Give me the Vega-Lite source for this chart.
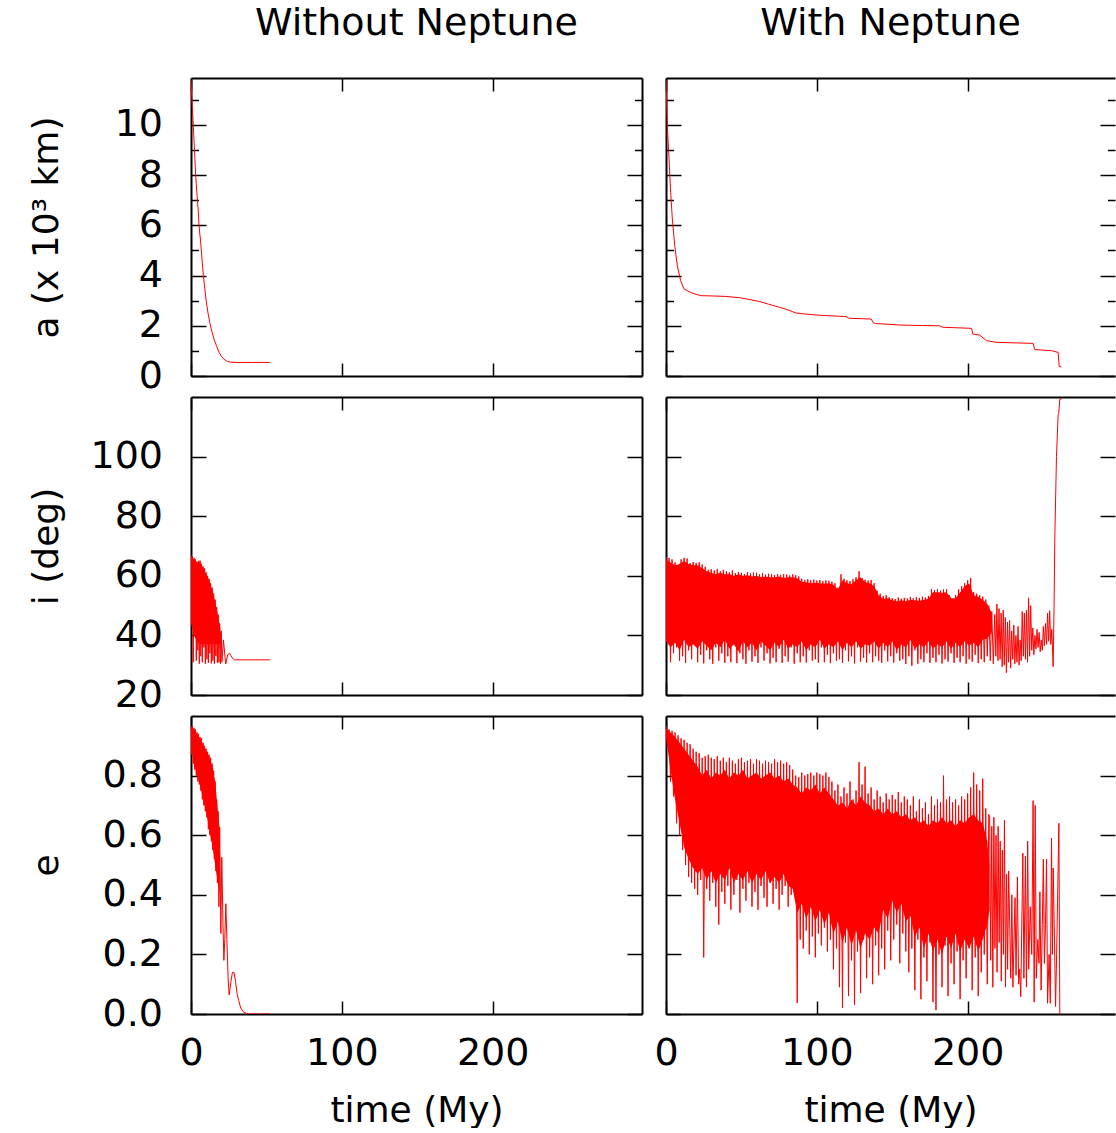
{
"$schema":"https://vega.github.io/schema/vega-lite/v6.json",
"background":"#ffffff",
"padding":{"left":28,"top":5,"right":0,"bottom":0},
"autosize":{"type":"pad"},
"config":{"view":{"stroke":null},"axis":{"labelFont":"DejaVu Sans","labelFontSize":38,"labelColor":"#000","titleFont":"DejaVu Sans","titleFontSize":36,"titleFontWeight":"normal","titleColor":"#000","tickColor":"#000","tickWidth":1.5,"domainColor":"#000","domainWidth":2,"grid":false,"labelFlush":false,"labelOverlap":false,"minExtent":0},"title":{"font":"DejaVu Sans","fontSize":38,"fontWeight":"normal","color":"#000"}},
"datasets":{
"a_wo":[{"t":0,"v":11.8},{"t":0.8,"v":10.8},{"t":1.5,"v":10.0},{"t":2.3,"v":9.0},{"t":3.1,"v":8.0},{"t":4.0,"v":7.2},{"t":4.9,"v":6.5},{"t":5.3,"v":6.0},{"t":6.4,"v":5.33},{"t":7.3,"v":4.65},{"t":8.2,"v":4.0},{"t":9.2,"v":3.45},{"t":10.2,"v":2.93},{"t":11.3,"v":2.5},{"t":12.4,"v":2.14},{"t":13.8,"v":1.78},{"t":15.3,"v":1.47},{"t":17,"v":1.18},{"t":18.6,"v":0.94},{"t":20,"v":0.8},{"t":21.3,"v":0.7},{"t":22.7,"v":0.63},{"t":24.1,"v":0.58},{"t":26.5,"v":0.55},{"t":29.7,"v":0.54},{"t":40,"v":0.54},{"t":52.3,"v":0.54}],
"a_w":[{"t":0,"v":11.8},{"t":0.9,"v":9.97},{"t":2.0,"v":8.65},{"t":3.1,"v":7.32},{"t":4.2,"v":6.25},{"t":5.8,"v":5.19},{"t":7.5,"v":4.39},{"t":9.7,"v":3.8},{"t":11.9,"v":3.47},{"t":15.3,"v":3.36},{"t":19,"v":3.27},{"t":23.1,"v":3.2},{"t":30,"v":3.19},{"t":39.7,"v":3.17},{"t":48.5,"v":3.12},{"t":55,"v":3.05},{"t":61.8,"v":2.97},{"t":68,"v":2.86},{"t":75.1,"v":2.74},{"t":80,"v":2.65},{"t":86.2,"v":2.51},{"t":92,"v":2.47},{"t":99.5,"v":2.43},{"t":108,"v":2.4},{"t":115,"v":2.38},{"t":120,"v":2.36},{"t":121,"v":2.3},{"t":136,"v":2.27},{"t":137.5,"v":2.12},{"t":139,"v":2.09},{"t":155,"v":2.03},{"t":170,"v":2.01},{"t":181.4,"v":2.0},{"t":183.6,"v":1.94},{"t":202.5,"v":1.9},{"t":203.5,"v":1.67},{"t":208,"v":1.63},{"t":212.4,"v":1.41},{"t":219,"v":1.34},{"t":243.4,"v":1.3},{"t":244.5,"v":1.05},{"t":255.6,"v":1.01},{"t":260,"v":0.94},{"t":260.7,"v":0.38},{"t":262.3,"v":0.36}],
"i_wo":[{"t":0,"v":67},{"t":0.5,"v":44},{"t":1,"v":66.5},{"t":1.5,"v":31},{"t":2,"v":66},{"t":2.5,"v":40},{"t":3,"v":65.5},{"t":3.5,"v":31.5},{"t":4,"v":64.8},{"t":4.5,"v":35},{"t":5,"v":65},{"t":5.5,"v":30.5},{"t":6,"v":65.1},{"t":6.5,"v":33},{"t":7,"v":64},{"t":7.5,"v":31},{"t":8,"v":63.2},{"t":8.5,"v":36},{"t":9,"v":62.5},{"t":9.5,"v":30.5},{"t":10,"v":61.2},{"t":10.5,"v":32},{"t":11,"v":60},{"t":11.5,"v":30.8},{"t":12,"v":59},{"t":12.5,"v":34},{"t":13,"v":57.5},{"t":13.5,"v":30.6},{"t":14,"v":56},{"t":14.5,"v":31.5},{"t":15,"v":54},{"t":15.5,"v":30.5},{"t":16,"v":52},{"t":16.5,"v":33},{"t":17,"v":49.5},{"t":17.5,"v":30.8},{"t":18,"v":47},{"t":18.5,"v":31},{"t":19,"v":44},{"t":19.5,"v":30.5},{"t":20,"v":41.5},{"t":20.5,"v":31},{"t":21.5,"v":38.5},{"t":23,"v":30.4},{"t":24.4,"v":33.6},{"t":25.6,"v":34},{"t":26.5,"v":33.2},{"t":27.5,"v":32.3},{"t":29,"v":31.8},{"t":52.3,"v":31.8}],
"i_wo_core":[{"t":0,"lo":44,"hi":66.5},{"t":2,"lo":40,"hi":65.5},{"t":4,"lo":38,"hi":64.5},{"t":6,"lo":37,"hi":64.5},{"t":8,"lo":37,"hi":62.5},{"t":10,"lo":37,"hi":60.5},{"t":12,"lo":37,"hi":58.5},{"t":14,"lo":37,"hi":55.5},{"t":16,"lo":37,"hi":51.5},{"t":18,"lo":37,"hi":46.5},{"t":19.5,"lo":37,"hi":42},{"t":20.3,"lo":38,"hi":39}],
"i_w":[{"t":0,"v":66.5},{"t":1,"v":38},{"t":2,"v":66},{"t":3,"v":31},{"t":4,"v":65.5},{"t":5,"v":34},{"t":6,"v":64.5},{"t":7,"v":36},{"t":8,"v":62.5},{"t":9,"v":31.5},{"t":10,"v":65.5},{"t":11,"v":33},{"t":12,"v":66},{"t":13,"v":30.8},{"t":14,"v":65.8},{"t":15,"v":35},{"t":16,"v":64.2},{"t":17,"v":32},{"t":18,"v":64.6},{"t":19,"v":37},{"t":20,"v":64.3},{"t":21,"v":31},{"t":22,"v":64.5},{"t":23,"v":33.5},{"t":24,"v":63.8},{"t":25,"v":30.6},{"t":26,"v":63},{"t":27,"v":35},{"t":28,"v":62},{"t":29,"v":32},{"t":30,"v":62.2},{"t":31,"v":30.5},{"t":32,"v":61.8},{"t":33,"v":36},{"t":34,"v":62.3},{"t":35,"v":31.5},{"t":36,"v":61.5},{"t":37,"v":34},{"t":38,"v":62},{"t":39,"v":30.8},{"t":40,"v":61.5},{"t":41,"v":33},{"t":42,"v":61.2},{"t":43,"v":31},{"t":44,"v":61.8},{"t":45,"v":37},{"t":46,"v":60.9},{"t":47,"v":30.7},{"t":48,"v":61.3},{"t":49,"v":34},{"t":50,"v":61},{"t":51,"v":32},{"t":52,"v":60.6},{"t":53,"v":30.5},{"t":54,"v":61.2},{"t":55,"v":35},{"t":56,"v":60.8},{"t":57,"v":31.2},{"t":58,"v":61.1},{"t":59,"v":33},{"t":60,"v":61},{"t":61,"v":30.8},{"t":62,"v":60.5},{"t":63,"v":36},{"t":64,"v":60.9},{"t":65,"v":31.5},{"t":66,"v":60.4},{"t":67,"v":34},{"t":68,"v":60.7},{"t":69,"v":30.6},{"t":70,"v":60.5},{"t":71,"v":32.5},{"t":72,"v":60.2},{"t":73,"v":31},{"t":74,"v":60.6},{"t":75,"v":35.5},{"t":76,"v":60.3},{"t":77,"v":30.8},{"t":78,"v":60.5},{"t":79,"v":33},{"t":80,"v":60.4},{"t":81,"v":31.2},{"t":82,"v":60.1},{"t":83,"v":36},{"t":84,"v":60.5},{"t":85,"v":30.5},{"t":86,"v":60.2},{"t":87,"v":34},{"t":88,"v":59.8},{"t":89,"v":31},{"t":90,"v":59},{"t":91,"v":33},{"t":92,"v":58.6},{"t":93,"v":30.9},{"t":94,"v":58.8},{"t":95,"v":35},{"t":96,"v":58.5},{"t":97,"v":31.5},{"t":98,"v":58.7},{"t":99,"v":32},{"t":100,"v":58.4},{"t":101,"v":30.8},{"t":102,"v":58.6},{"t":103,"v":36},{"t":104,"v":58.2},{"t":105,"v":31},{"t":106,"v":58.5},{"t":107,"v":33.5},{"t":108,"v":58.3},{"t":109,"v":30.7},{"t":110,"v":58},{"t":111,"v":34},{"t":112,"v":57.5},{"t":113,"v":31.5},{"t":114,"v":56},{"t":115,"v":32},{"t":116,"v":60.5},{"t":117,"v":30.8},{"t":118,"v":59},{"t":119,"v":35},{"t":120,"v":58.5},{"t":121,"v":31.3},{"t":122,"v":58.2},{"t":123,"v":33},{"t":124,"v":58.8},{"t":125,"v":30.6},{"t":126,"v":59.5},{"t":127,"v":36},{"t":128,"v":61.5},{"t":129,"v":31.2},{"t":130,"v":59.2},{"t":131,"v":32.5},{"t":132,"v":58.7},{"t":133,"v":30.9},{"t":134,"v":58.4},{"t":135,"v":34},{"t":136,"v":58.6},{"t":137,"v":31},{"t":138,"v":57.5},{"t":139,"v":33},{"t":140,"v":55},{"t":141,"v":31.5},{"t":142,"v":54},{"t":143,"v":30.8},{"t":144,"v":53.2},{"t":145,"v":35},{"t":146,"v":53.5},{"t":147,"v":31.3},{"t":148,"v":52.8},{"t":149,"v":33},{"t":150,"v":52.5},{"t":151,"v":30.9},{"t":152,"v":52.2},{"t":153,"v":34},{"t":154,"v":52.7},{"t":155,"v":31.5},{"t":156,"v":52.3},{"t":157,"v":32},{"t":158,"v":52.6},{"t":159,"v":30.4},{"t":160,"v":52.4},{"t":161,"v":33},{"t":162,"v":52.9},{"t":163,"v":29.8},{"t":164,"v":52.5},{"t":165,"v":35},{"t":166,"v":52.8},{"t":167,"v":30.5},{"t":168,"v":52.6},{"t":169,"v":32},{"t":170,"v":53},{"t":171,"v":31},{"t":172,"v":52.7},{"t":173,"v":34},{"t":174,"v":53.2},{"t":175,"v":30.8},{"t":176,"v":55.5},{"t":177,"v":32.5},{"t":178,"v":55.2},{"t":179,"v":31},{"t":180,"v":55.6},{"t":181,"v":33.5},{"t":182,"v":55},{"t":183,"v":30.6},{"t":184,"v":55.4},{"t":185,"v":32},{"t":186,"v":55.5},{"t":187,"v":31.2},{"t":188,"v":53.5},{"t":189,"v":34},{"t":190,"v":52},{"t":191,"v":30.8},{"t":192,"v":53.5},{"t":193,"v":32.5},{"t":194,"v":55.5},{"t":195,"v":31},{"t":196,"v":56.5},{"t":197,"v":33},{"t":198,"v":57.5},{"t":199,"v":30.5},{"t":200,"v":58.5},{"t":201,"v":32},{"t":202,"v":59.3},{"t":203,"v":31.2},{"t":204,"v":54.5},{"t":205,"v":33.5},{"t":206,"v":54},{"t":207,"v":30.7},{"t":208,"v":53.5},{"t":209,"v":32},{"t":210,"v":53},{"t":211,"v":31},{"t":212,"v":52},{"t":213,"v":33},{"t":214,"v":50},{"t":215,"v":31.5},{"t":216,"v":48},{"t":217,"v":30.5},{"t":218,"v":47},{"t":218.7,"v":33},{"t":219.4,"v":50.5},{"t":220.1,"v":31.5},{"t":220.8,"v":49},{"t":221.5,"v":32},{"t":222.2,"v":47.5},{"t":222.9,"v":29.5},{"t":223.6,"v":48.5},{"t":224.3,"v":30},{"t":225,"v":46},{"t":225.7,"v":27.5},{"t":226.4,"v":44.5},{"t":227.1,"v":31},{"t":227.8,"v":45},{"t":228.5,"v":29},{"t":229.2,"v":41.5},{"t":229.9,"v":32},{"t":230.6,"v":43.5},{"t":231.3,"v":30.5},{"t":232,"v":40},{"t":232.7,"v":31},{"t":233.4,"v":43},{"t":234.1,"v":30},{"t":234.8,"v":38.5},{"t":235.5,"v":31.5},{"t":236.2,"v":48},{"t":236.9,"v":33},{"t":237.6,"v":47.5},{"t":238.3,"v":32},{"t":239,"v":48.5},{"t":239.7,"v":31},{"t":240.4,"v":52.6},{"t":241.1,"v":33},{"t":241.8,"v":50},{"t":242.5,"v":35},{"t":243.2,"v":42.5},{"t":243.9,"v":33.5},{"t":244.6,"v":40},{"t":245.3,"v":35.5},{"t":246,"v":42},{"t":246.7,"v":36},{"t":247.4,"v":41},{"t":248.1,"v":34.5},{"t":248.8,"v":38.5},{"t":249.5,"v":35},{"t":250.2,"v":43},{"t":250.9,"v":36.5},{"t":251.6,"v":44},{"t":252.3,"v":37},{"t":253,"v":47.5},{"t":253.7,"v":38},{"t":254.4,"v":48.3},{"t":255.1,"v":37},{"t":255.8,"v":42},{"t":256.7,"v":29.5},{"t":257.3,"v":50},{"t":257.8,"v":73},{"t":258.9,"v":100},{"t":260,"v":114},{"t":260.4,"v":114.5},{"t":261.1,"v":119.2},{"t":262.2,"v":119.3}],
"i_w_core":[{"t":0,"lo":38,"hi":65.5},{"t":3,"lo":36,"hi":64.5},{"t":6,"lo":37.5,"hi":63.5},{"t":9,"lo":35,"hi":64},{"t":12,"lo":38.5,"hi":65},{"t":15,"lo":36,"hi":64},{"t":18,"lo":37,"hi":63.5},{"t":21,"lo":35.5,"hi":63.5},{"t":24,"lo":38,"hi":62.5},{"t":27,"lo":36.5,"hi":61.5},{"t":30,"lo":35,"hi":61},{"t":33,"lo":37.5,"hi":60.5},{"t":36,"lo":36,"hi":61},{"t":39,"lo":38.5,"hi":60.5},{"t":42,"lo":35.5,"hi":60.5},{"t":45,"lo":37,"hi":60},{"t":48,"lo":34.5,"hi":60.5},{"t":51,"lo":38,"hi":60},{"t":54,"lo":36,"hi":60.2},{"t":57,"lo":37.5,"hi":59.8},{"t":60,"lo":35,"hi":60},{"t":63,"lo":38,"hi":59.5},{"t":66,"lo":36.5,"hi":59.8},{"t":69,"lo":35,"hi":59.5},{"t":72,"lo":37.5,"hi":59.5},{"t":75,"lo":36,"hi":59.8},{"t":78,"lo":38.5,"hi":59.3},{"t":81,"lo":35.5,"hi":59.5},{"t":84,"lo":37,"hi":59.5},{"t":87,"lo":36,"hi":59.2},{"t":90,"lo":38,"hi":58},{"t":93,"lo":35,"hi":57.8},{"t":96,"lo":37,"hi":57.5},{"t":99,"lo":36,"hi":57.7},{"t":102,"lo":38.5,"hi":57.5},{"t":105,"lo":35.5,"hi":57.3},{"t":108,"lo":37,"hi":57.5},{"t":111,"lo":36,"hi":57},{"t":114,"lo":38,"hi":55.5},{"t":117,"lo":35,"hi":58.5},{"t":120,"lo":37.5,"hi":57.5},{"t":123,"lo":36,"hi":57.2},{"t":126,"lo":38,"hi":58.5},{"t":129,"lo":35.5,"hi":59.5},{"t":132,"lo":37,"hi":57.8},{"t":135,"lo":36.5,"hi":57.5},{"t":138,"lo":38,"hi":56.5},{"t":141,"lo":35.5,"hi":53.5},{"t":144,"lo":37.5,"hi":52.2},{"t":147,"lo":36,"hi":52.5},{"t":150,"lo":38,"hi":51.8},{"t":153,"lo":35,"hi":51.5},{"t":156,"lo":37,"hi":51.8},{"t":159,"lo":36,"hi":51.5},{"t":162,"lo":38.5,"hi":52},{"t":165,"lo":35.5,"hi":51.8},{"t":168,"lo":37,"hi":51.6},{"t":171,"lo":36,"hi":52},{"t":174,"lo":38,"hi":52.3},{"t":177,"lo":35.5,"hi":54.5},{"t":180,"lo":37,"hi":54.5},{"t":183,"lo":36,"hi":54.3},{"t":186,"lo":38,"hi":54.5},{"t":189,"lo":35.5,"hi":52.5},{"t":192,"lo":37.5,"hi":52.5},{"t":195,"lo":36,"hi":54.5},{"t":198,"lo":38,"hi":56.5},{"t":201,"lo":36.5,"hi":57.5},{"t":204,"lo":37.5,"hi":53.5},{"t":207,"lo":36,"hi":53},{"t":210,"lo":38.5,"hi":52},{"t":213,"lo":39,"hi":50.5},{"t":216,"lo":41,"hi":47.5}],
"e_wo":[{"t":0,"v":0.967},{"t":0.5,"v":0.87},{"t":1,"v":0.965},{"t":1.5,"v":0.84},{"t":2,"v":0.96},{"t":2.5,"v":0.82},{"t":3,"v":0.955},{"t":3.5,"v":0.8},{"t":4,"v":0.945},{"t":4.5,"v":0.78},{"t":5,"v":0.94},{"t":5.5,"v":0.77},{"t":6,"v":0.93},{"t":6.5,"v":0.75},{"t":7,"v":0.925},{"t":7.5,"v":0.72},{"t":8,"v":0.91},{"t":8.5,"v":0.7},{"t":9,"v":0.9},{"t":9.5,"v":0.68},{"t":10,"v":0.89},{"t":10.5,"v":0.66},{"t":11,"v":0.88},{"t":11.5,"v":0.62},{"t":12,"v":0.87},{"t":12.5,"v":0.6},{"t":13,"v":0.86},{"t":13.5,"v":0.58},{"t":14,"v":0.84},{"t":14.5,"v":0.55},{"t":15,"v":0.817},{"t":15.5,"v":0.52},{"t":16,"v":0.78},{"t":16.5,"v":0.48},{"t":17,"v":0.72},{"t":17.5,"v":0.44},{"t":18,"v":0.68},{"t":18.5,"v":0.36},{"t":19,"v":0.627},{"t":19.8,"v":0.27},{"t":20.4,"v":0.526},{"t":21.2,"v":0.3},{"t":21.8,"v":0.18},{"t":22.4,"v":0.25},{"t":23.1,"v":0.37},{"t":23.8,"v":0.25},{"t":24.6,"v":0.12},{"t":25.3,"v":0.064},{"t":26.5,"v":0.11},{"t":27.5,"v":0.14},{"t":28.5,"v":0.14},{"t":29.5,"v":0.11},{"t":30.5,"v":0.07},{"t":31.6,"v":0.045},{"t":33,"v":0.02},{"t":35,"v":0.005},{"t":38.2,"v":0},{"t":52.3,"v":0}],
"e_wo_core":[{"t":0,"lo":0.9,"hi":0.965},{"t":2,"lo":0.84,"hi":0.955},{"t":4,"lo":0.8,"hi":0.94},{"t":6,"lo":0.77,"hi":0.925},{"t":8,"lo":0.72,"hi":0.905},{"t":10,"lo":0.68,"hi":0.885},{"t":12,"lo":0.62,"hi":0.865},{"t":14,"lo":0.57,"hi":0.835},{"t":16,"lo":0.5,"hi":0.78},{"t":17.5,"lo":0.45,"hi":0.7},{"t":19,"lo":0.4,"hi":0.62}],
"e_w":[{"t":0,"v":0.967},{"t":1,"v":0.9},{"t":2,"v":0.955},{"t":3,"v":0.78},{"t":4,"v":0.95},{"t":5,"v":0.73},{"t":6,"v":0.945},{"t":7,"v":0.64},{"t":8,"v":0.935},{"t":9,"v":0.6},{"t":10,"v":0.925},{"t":11,"v":0.55},{"t":12,"v":0.92},{"t":13,"v":0.5},{"t":14,"v":0.91},{"t":15,"v":0.46},{"t":16,"v":0.905},{"t":17,"v":0.44},{"t":18,"v":0.89},{"t":19,"v":0.42},{"t":20,"v":0.88},{"t":21,"v":0.4},{"t":22,"v":0.875},{"t":23,"v":0.45},{"t":24,"v":0.86},{"t":25,"v":0.19},{"t":26,"v":0.865},{"t":27,"v":0.42},{"t":28,"v":0.87},{"t":29,"v":0.38},{"t":30,"v":0.86},{"t":31,"v":0.44},{"t":32,"v":0.855},{"t":33,"v":0.36},{"t":34,"v":0.865},{"t":35,"v":0.3},{"t":36,"v":0.85},{"t":37,"v":0.41},{"t":38,"v":0.86},{"t":39,"v":0.37},{"t":40,"v":0.845},{"t":41,"v":0.43},{"t":42,"v":0.86},{"t":43,"v":0.35},{"t":44,"v":0.85},{"t":45,"v":0.4},{"t":46,"v":0.84},{"t":47,"v":0.45},{"t":48,"v":0.855},{"t":49,"v":0.34},{"t":50,"v":0.86},{"t":51,"v":0.42},{"t":52,"v":0.845},{"t":53,"v":0.38},{"t":54,"v":0.85},{"t":55,"v":0.44},{"t":56,"v":0.855},{"t":57,"v":0.36},{"t":58,"v":0.84},{"t":59,"v":0.41},{"t":60,"v":0.855},{"t":61,"v":0.35},{"t":62,"v":0.85},{"t":63,"v":0.43},{"t":64,"v":0.84},{"t":65,"v":0.39},{"t":66,"v":0.85},{"t":67,"v":0.36},{"t":68,"v":0.845},{"t":69,"v":0.44},{"t":70,"v":0.84},{"t":71,"v":0.37},{"t":72,"v":0.855},{"t":73,"v":0.42},{"t":74,"v":0.845},{"t":75,"v":0.35},{"t":76,"v":0.85},{"t":77,"v":0.4},{"t":78,"v":0.84},{"t":79,"v":0.43},{"t":80,"v":0.845},{"t":81,"v":0.36},{"t":82,"v":0.835},{"t":83,"v":0.4},{"t":84,"v":0.82},{"t":85,"v":0.42},{"t":86,"v":0.8},{"t":87,"v":0.037},{"t":88,"v":0.795},{"t":89,"v":0.25},{"t":90,"v":0.81},{"t":91,"v":0.22},{"t":92,"v":0.8},{"t":93,"v":0.28},{"t":94,"v":0.805},{"t":95,"v":0.2},{"t":96,"v":0.81},{"t":97,"v":0.26},{"t":98,"v":0.8},{"t":99,"v":0.19},{"t":100,"v":0.81},{"t":101,"v":0.27},{"t":102,"v":0.805},{"t":103,"v":0.23},{"t":104,"v":0.8},{"t":105,"v":0.29},{"t":106,"v":0.81},{"t":107,"v":0.21},{"t":108,"v":0.795},{"t":109,"v":0.25},{"t":110,"v":0.78},{"t":111,"v":0.15},{"t":112,"v":0.75},{"t":113,"v":0.22},{"t":114,"v":0.77},{"t":115,"v":0.09},{"t":116,"v":0.73},{"t":117,"v":0.02},{"t":118,"v":0.76},{"t":119,"v":0.24},{"t":120,"v":0.74},{"t":121,"v":0.06},{"t":122,"v":0.78},{"t":123,"v":0.18},{"t":124,"v":0.72},{"t":125,"v":0.03},{"t":126,"v":0.75},{"t":127,"v":0.21},{"t":128,"v":0.845},{"t":129,"v":0.07},{"t":130,"v":0.77},{"t":131,"v":0.25},{"t":132,"v":0.83},{"t":133,"v":0.12},{"t":134,"v":0.74},{"t":135,"v":0.19},{"t":136,"v":0.76},{"t":137,"v":0.1},{"t":138,"v":0.72},{"t":139,"v":0.23},{"t":140,"v":0.75},{"t":141,"v":0.13},{"t":142,"v":0.73},{"t":143,"v":0.22},{"t":144,"v":0.71},{"t":145,"v":0.15},{"t":146,"v":0.74},{"t":147,"v":0.28},{"t":148,"v":0.72},{"t":149,"v":0.18},{"t":150,"v":0.735},{"t":151,"v":0.25},{"t":152,"v":0.72},{"t":153,"v":0.3},{"t":154,"v":0.745},{"t":155,"v":0.17},{"t":156,"v":0.71},{"t":157,"v":0.27},{"t":158,"v":0.73},{"t":159,"v":0.21},{"t":160,"v":0.72},{"t":161,"v":0.14},{"t":162,"v":0.7},{"t":163,"v":0.22},{"t":164,"v":0.73},{"t":165,"v":0.08},{"t":166,"v":0.68},{"t":167,"v":0.25},{"t":168,"v":0.72},{"t":169,"v":0.05},{"t":170,"v":0.69},{"t":171,"v":0.19},{"t":172,"v":0.71},{"t":173,"v":0.11},{"t":174,"v":0.67},{"t":175,"v":0.24},{"t":176,"v":0.73},{"t":177,"v":0.04},{"t":178,"v":0.7},{"t":179,"v":0.013},{"t":180,"v":0.72},{"t":181,"v":0.2},{"t":182,"v":0.71},{"t":183,"v":0.09},{"t":184,"v":0.8},{"t":185,"v":0.23},{"t":186,"v":0.72},{"t":187,"v":0.06},{"t":188,"v":0.73},{"t":189,"v":0.17},{"t":190,"v":0.71},{"t":191,"v":0.1},{"t":192,"v":0.72},{"t":193,"v":0.21},{"t":194,"v":0.7},{"t":195,"v":0.05},{"t":196,"v":0.73},{"t":197,"v":0.18},{"t":198,"v":0.72},{"t":199,"v":0.12},{"t":200,"v":0.74},{"t":201,"v":0.22},{"t":202,"v":0.76},{"t":203,"v":0.08},{"t":204,"v":0.81},{"t":205,"v":0.19},{"t":206,"v":0.77},{"t":207,"v":0.06},{"t":208,"v":0.75},{"t":209,"v":0.14},{"t":210,"v":0.79},{"t":211,"v":0.2},{"t":212,"v":0.69},{"t":213,"v":0.1},{"t":214,"v":0.67},{"t":214.6,"v":0.66},{"t":215.3,"v":0.18},{"t":216,"v":0.63},{"t":216.7,"v":0.09},{"t":217.4,"v":0.66},{"t":218.1,"v":0.22},{"t":218.8,"v":0.6},{"t":219.5,"v":0.14},{"t":220.2,"v":0.63},{"t":220.9,"v":0.24},{"t":221.6,"v":0.58},{"t":222.3,"v":0.11},{"t":223,"v":0.55},{"t":223.7,"v":0.2},{"t":224.4,"v":0.65},{"t":225.1,"v":0.09},{"t":225.8,"v":0.47},{"t":226.5,"v":0.15},{"t":227.2,"v":0.48},{"t":228.6,"v":0.12},{"t":229.3,"v":0.4},{"t":230,"v":0.09},{"t":231.4,"v":0.39},{"t":232.1,"v":0.13},{"t":233,"v":0.46},{"t":233.8,"v":0.1},{"t":234.5,"v":0.15},{"t":235.2,"v":0.058},{"t":236.6,"v":0.54},{"t":237.3,"v":0.12},{"t":238.3,"v":0.53},{"t":239,"v":0.09},{"t":239.8,"v":0.58},{"t":240.5,"v":0.15},{"t":241.5,"v":0.36},{"t":242.5,"v":0.2},{"t":243.4,"v":0.716},{"t":244.1,"v":0.04},{"t":244.8,"v":0.7},{"t":245.5,"v":0.12},{"t":246.5,"v":0.25},{"t":247.3,"v":0.17},{"t":247.9,"v":0.41},{"t":248.7,"v":0.08},{"t":249.5,"v":0.3},{"t":250.2,"v":0.52},{"t":250.9,"v":0.17},{"t":251.6,"v":0.3},{"t":252.3,"v":0.52},{"t":253,"v":0.036},{"t":254,"v":0.2},{"t":254.8,"v":0.036},{"t":255.6,"v":0.59},{"t":256.2,"v":0.2},{"t":256.7,"v":0.49},{"t":257.4,"v":0.3},{"t":258.3,"v":0.025},{"t":259,"v":0.2},{"t":260.5,"v":0.64},{"t":261.1,"v":0},{"t":262,"v":0}],
"e_w_core":[{"t":0,"lo":0.93,"hi":0.96},{"t":3,"lo":0.82,"hi":0.945},{"t":6,"lo":0.72,"hi":0.93},{"t":9,"lo":0.64,"hi":0.91},{"t":12,"lo":0.56,"hi":0.89},{"t":15,"lo":0.52,"hi":0.87},{"t":18,"lo":0.49,"hi":0.85},{"t":21,"lo":0.47,"hi":0.83},{"t":24,"lo":0.49,"hi":0.8},{"t":27,"lo":0.45,"hi":0.82},{"t":30,"lo":0.48,"hi":0.79},{"t":33,"lo":0.44,"hi":0.81},{"t":36,"lo":0.47,"hi":0.8},{"t":39,"lo":0.45,"hi":0.82},{"t":42,"lo":0.49,"hi":0.79},{"t":45,"lo":0.44,"hi":0.81},{"t":48,"lo":0.47,"hi":0.8},{"t":51,"lo":0.45,"hi":0.82},{"t":54,"lo":0.48,"hi":0.79},{"t":57,"lo":0.44,"hi":0.8},{"t":60,"lo":0.47,"hi":0.81},{"t":63,"lo":0.45,"hi":0.79},{"t":66,"lo":0.48,"hi":0.8},{"t":69,"lo":0.44,"hi":0.81},{"t":72,"lo":0.46,"hi":0.79},{"t":75,"lo":0.44,"hi":0.8},{"t":78,"lo":0.47,"hi":0.78},{"t":81,"lo":0.43,"hi":0.79},{"t":84,"lo":0.42,"hi":0.77},{"t":87,"lo":0.34,"hi":0.76},{"t":90,"lo":0.37,"hi":0.74},{"t":93,"lo":0.32,"hi":0.76},{"t":96,"lo":0.36,"hi":0.75},{"t":99,"lo":0.31,"hi":0.77},{"t":102,"lo":0.35,"hi":0.74},{"t":105,"lo":0.3,"hi":0.76},{"t":108,"lo":0.34,"hi":0.74},{"t":111,"lo":0.27,"hi":0.72},{"t":114,"lo":0.31,"hi":0.7},{"t":117,"lo":0.24,"hi":0.71},{"t":120,"lo":0.29,"hi":0.69},{"t":123,"lo":0.23,"hi":0.72},{"t":126,"lo":0.28,"hi":0.7},{"t":129,"lo":0.22,"hi":0.73},{"t":132,"lo":0.27,"hi":0.71},{"t":135,"lo":0.25,"hi":0.7},{"t":138,"lo":0.29,"hi":0.68},{"t":141,"lo":0.27,"hi":0.69},{"t":144,"lo":0.35,"hi":0.67},{"t":147,"lo":0.32,"hi":0.69},{"t":150,"lo":0.38,"hi":0.67},{"t":153,"lo":0.34,"hi":0.68},{"t":156,"lo":0.37,"hi":0.66},{"t":159,"lo":0.31,"hi":0.67},{"t":162,"lo":0.33,"hi":0.65},{"t":165,"lo":0.26,"hi":0.66},{"t":168,"lo":0.29,"hi":0.64},{"t":171,"lo":0.22,"hi":0.65},{"t":174,"lo":0.27,"hi":0.63},{"t":177,"lo":0.21,"hi":0.65},{"t":180,"lo":0.25,"hi":0.64},{"t":183,"lo":0.2,"hi":0.66},{"t":186,"lo":0.26,"hi":0.64},{"t":189,"lo":0.22,"hi":0.65},{"t":192,"lo":0.27,"hi":0.63},{"t":195,"lo":0.21,"hi":0.65},{"t":198,"lo":0.25,"hi":0.64},{"t":201,"lo":0.22,"hi":0.66},{"t":204,"lo":0.26,"hi":0.67},{"t":207,"lo":0.21,"hi":0.65},{"t":210,"lo":0.25,"hi":0.64},{"t":213,"lo":0.3,"hi":0.58},{"t":214.5,"lo":0.35,"hi":0.5}]
},
"columns":2,
"spacing":{"row":1,"column":10},
"concat":[
{"width":451,"height":298,
 "title":{"text":"Without Neptune","offset":4,"baseline":"alphabetic"},
 "layer":[
  {"data":{"name":"a_wo"},"mark":{"type":"line","color":"#ff0000","strokeWidth":1,"clip":true},
   "encoding":{"x":{"field":"t","type":"quantitative","scale":{"domain":[0,299],"nice":false,"zero":false},"axis":{"orient":"bottom","values":[0,100,200],"labels":false,"title":null,"tickSize":-13,"maxExtent":0}},
   "y":{"field":"v","type":"quantitative","scale":{"domain":[0,11.87],"nice":false,"zero":false},"axis":{"orient":"left","values":[0,1,2,3,4,5,6,7,8,9,10,11],"labelExpr":"datum.value % 2 === 0 ? datum.label : ''","tickSize":{"condition":{"test":"datum.value % 2 === 1","value":-7.5},"value":-15},"labelPadding":43.5,"title":"a (x 10³ km)","titlePadding":26,"minExtent":100,"maxExtent":100}}}},
  {"data":{"name":"a_wo"},"mark":{"type":"line","opacity":0},
   "encoding":{"x":{"field":"t","type":"quantitative","scale":{"domain":[0,299],"nice":false,"zero":false},"axis":{"orient":"top","values":[0,100,200],"labels":false,"title":null,"tickSize":-13,"maxExtent":0}},
   "y":{"field":"v","type":"quantitative","scale":{"domain":[0,11.87],"nice":false,"zero":false},"axis":{"orient":"right","values":[0,1,2,3,4,5,6,7,8,9,10,11],"labels":false,"title":null,"maxExtent":0,"tickSize":{"condition":{"test":"datum.value % 2 === 1","value":-7.5},"value":-15}}}}}
 ],
 "resolve":{"axis":{"x":"independent","y":"independent"}}},
{"width":449,"height":298,
 "title":{"text":"With Neptune","offset":4,"baseline":"alphabetic"},
 "layer":[
  {"data":{"name":"a_w"},"mark":{"type":"line","color":"#ff0000","strokeWidth":1,"clip":true},
   "encoding":{"x":{"field":"t","type":"quantitative","scale":{"domain":[0,297.7],"nice":false,"zero":false},"axis":{"orient":"bottom","values":[0,100,200],"labels":false,"title":null,"tickSize":-13,"maxExtent":0}},
   "y":{"field":"v","type":"quantitative","scale":{"domain":[0,11.87],"nice":false,"zero":false},"axis":{"orient":"left","values":[0,1,2,3,4,5,6,7,8,9,10,11],"labels":false,"title":null,"maxExtent":0,"tickSize":{"condition":{"test":"datum.value % 2 === 1","value":-7.5},"value":-15}}}}},
  {"data":{"name":"a_w"},"mark":{"type":"line","opacity":0},
   "encoding":{"x":{"field":"t","type":"quantitative","scale":{"domain":[0,297.7],"nice":false,"zero":false},"axis":{"orient":"top","values":[0,100,200],"labels":false,"title":null,"tickSize":-13,"maxExtent":0}},
   "y":{"field":"v","type":"quantitative","scale":{"domain":[0,11.87],"nice":false,"zero":false},"axis":{"orient":"right","domain":false,"values":[0,1,2,3,4,5,6,7,8,9,10,11],"labels":false,"title":null,"maxExtent":0,"tickSize":{"condition":{"test":"datum.value % 2 === 1","value":-7.5},"value":-15}}}}}
 ],
 "resolve":{"axis":{"x":"independent","y":"independent"}}},
{"width":451,"height":298,
 "layer":[
  {"data":{"name":"i_wo_core"},"mark":{"type":"area","color":"#ff0000","clip":true},
   "encoding":{"x":{"field":"t","type":"quantitative","scale":{"domain":[0,299],"nice":false,"zero":false},"axis":{"orient":"bottom","values":[0,100,200],"labels":false,"title":null,"tickSize":-13,"maxExtent":0}},
   "y":{"field":"lo","type":"quantitative","scale":{"domain":[20,120],"nice":false,"zero":false},"axis":{"orient":"left","values":[20,40,60,80,100],"tickSize":-15,"labelPadding":43.5,"title":"i (deg)","titlePadding":26,"minExtent":100,"maxExtent":100}},
   "y2":{"field":"hi"}}},
  {"data":{"name":"i_wo"},"mark":{"type":"line","color":"#ff0000","strokeWidth":1,"clip":true},
   "encoding":{"x":{"field":"t","type":"quantitative","scale":{"domain":[0,299],"nice":false,"zero":false},"axis":{"orient":"top","values":[0,100,200],"labels":false,"title":null,"tickSize":-13,"maxExtent":0}},
   "y":{"field":"v","type":"quantitative","scale":{"domain":[20,120],"nice":false,"zero":false},"axis":{"orient":"right","values":[20,40,60,80,100],"labels":false,"title":null,"tickSize":-15,"maxExtent":0}}}}
 ],
 "resolve":{"axis":{"x":"independent","y":"independent"}}},
{"width":449,"height":298,
 "layer":[
  {"data":{"name":"i_w_core"},"mark":{"type":"area","color":"#ff0000","clip":true},
   "encoding":{"x":{"field":"t","type":"quantitative","scale":{"domain":[0,297.7],"nice":false,"zero":false},"axis":{"orient":"bottom","values":[0,100,200],"labels":false,"title":null,"tickSize":-13,"maxExtent":0}},
   "y":{"field":"lo","type":"quantitative","scale":{"domain":[20,120],"nice":false,"zero":false},"axis":{"orient":"left","values":[20,40,60,80,100],"labels":false,"title":null,"tickSize":-15,"maxExtent":0}},
   "y2":{"field":"hi"}}},
  {"data":{"name":"i_w"},"mark":{"type":"line","color":"#ff0000","strokeWidth":1,"clip":true},
   "encoding":{"x":{"field":"t","type":"quantitative","scale":{"domain":[0,297.7],"nice":false,"zero":false},"axis":{"orient":"top","values":[0,100,200],"labels":false,"title":null,"tickSize":-13,"maxExtent":0}},
   "y":{"field":"v","type":"quantitative","scale":{"domain":[20,120],"nice":false,"zero":false},"axis":{"orient":"right","domain":false,"values":[20,40,60,80,100],"labels":false,"title":null,"tickSize":-15,"maxExtent":0}}}}
 ],
 "resolve":{"axis":{"x":"independent","y":"independent"}}},
{"width":451,"height":298,
 "layer":[
  {"data":{"name":"e_wo_core"},"mark":{"type":"area","color":"#ff0000","clip":true},
   "encoding":{"x":{"field":"t","type":"quantitative","scale":{"domain":[0,299],"nice":false,"zero":false},"axis":{"orient":"bottom","values":[0,100,200],"tickSize":-13,"labelPadding":33,"title":"time (My)","titlePadding":21}},
   "y":{"field":"lo","type":"quantitative","scale":{"domain":[0,1],"nice":false,"zero":false},"axis":{"orient":"left","values":[0,0.2,0.4,0.6,0.8],"format":".1f","tickSize":-15,"labelPadding":43.5,"title":"e","titlePadding":26,"minExtent":100,"maxExtent":100}},
   "y2":{"field":"hi"}}},
  {"data":{"name":"e_wo"},"mark":{"type":"line","color":"#ff0000","strokeWidth":1,"clip":true},
   "encoding":{"x":{"field":"t","type":"quantitative","scale":{"domain":[0,299],"nice":false,"zero":false},"axis":{"orient":"top","values":[0,100,200],"labels":false,"title":null,"tickSize":-13,"maxExtent":0}},
   "y":{"field":"v","type":"quantitative","scale":{"domain":[0,1],"nice":false,"zero":false},"axis":{"orient":"right","values":[0,0.2,0.4,0.6,0.8],"labels":false,"title":null,"tickSize":-15,"maxExtent":0}}}}
 ],
 "resolve":{"axis":{"x":"independent","y":"independent"}}},
{"width":449,"height":298,
 "layer":[
  {"data":{"name":"e_w_core"},"mark":{"type":"area","color":"#ff0000","clip":true},
   "encoding":{"x":{"field":"t","type":"quantitative","scale":{"domain":[0,297.7],"nice":false,"zero":false},"axis":{"orient":"bottom","values":[0,100,200],"tickSize":-13,"labelPadding":33,"title":"time (My)","titlePadding":21}},
   "y":{"field":"lo","type":"quantitative","scale":{"domain":[0,1],"nice":false,"zero":false},"axis":{"orient":"left","values":[0,0.2,0.4,0.6,0.8],"labels":false,"title":null,"tickSize":-15,"maxExtent":0}},
   "y2":{"field":"hi"}}},
  {"data":{"name":"e_w"},"mark":{"type":"line","color":"#ff0000","strokeWidth":1,"clip":true},
   "encoding":{"x":{"field":"t","type":"quantitative","scale":{"domain":[0,297.7],"nice":false,"zero":false},"axis":{"orient":"top","values":[0,100,200],"labels":false,"title":null,"tickSize":-13,"maxExtent":0}},
   "y":{"field":"v","type":"quantitative","scale":{"domain":[0,1],"nice":false,"zero":false},"axis":{"orient":"right","domain":false,"values":[0,0.2,0.4,0.6,0.8],"labels":false,"title":null,"tickSize":-15,"maxExtent":0}}}}
 ],
 "resolve":{"axis":{"x":"independent","y":"independent"}}}
]
}
